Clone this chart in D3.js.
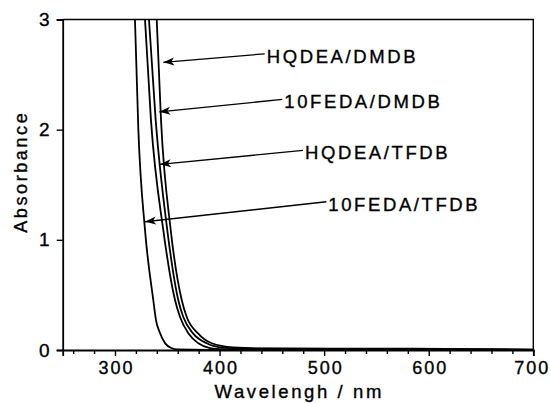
<!DOCTYPE html>
<html>
<head>
<meta charset="utf-8">
<script src="https://cdn.jsdelivr.net/npm/d3@7"></script>
<style>
  html, body { margin: 0; padding: 0; background: #fff; }
  svg { display: block; }
  text { font-family: "Liberation Sans", Arial, sans-serif; fill: #000; }
</style>
</head>
<body>
<svg id="chart" width="551" height="403"></svg>
<script>
// ---- data ----
const xTicks = [300, 400, 500, 600, 700];
const xMinorTicks = [260, 280, 320, 340, 360, 380, 420, 440, 460, 480, 520, 540, 560, 580, 620, 640, 660, 680];
const yTicks = [0, 1, 2, 3];
const xDomain = [250, 700];
const yDomain = [0, 3];

const seriesNames = ["10FEDA/TFDB", "10FEDA/DMDB", "HQDEA/TFDB", "HQDEA/DMDB"];

const wl_10FEDA_TFDB = [319.1, 322.3, 328.7, 336.6, 339.2, 343.0, 348.0, 354.0, 360.0, 390, 700];
const ab_10FEDA_TFDB = [3.0, 2.01, 1.09, 0.454, 0.272, 0.154, 0.06, 0.018, 0.005, 0.002, 0.001];

const wl_10FEDA_DMDB = [328.7, 334.4, 346.2, 357.4, 362.2, 370.1, 379.7, 390.9, 401, 450, 700];
const ab_10FEDA_DMDB = [3.0, 2.087, 1.089, 0.454, 0.30, 0.151, 0.061, 0.017, 0.007, 0.003, 0.001];

const wl_HQDEA_TFDB = [332.5, 338.9, 350.0, 360.5, 365.3, 374.6, 387.7, 403, 435, 585, 700];
const ab_HQDEA_TFDB = [3.0, 2.087, 1.089, 0.454, 0.30, 0.151, 0.061, 0.022, 0.012, 0.01, 0.003];

const wl_HQDEA_DMDB = [339.9, 344.0, 353.3, 363.8, 368.6, 379.4, 392.5, 413, 445, 585, 700];
const ab_HQDEA_DMDB = [3.0, 2.087, 1.089, 0.454, 0.30, 0.151, 0.061, 0.024, 0.014, 0.012, 0.003];

// annotation: label text position and arrow tip, in data units
const labelText = ["HQDEA/DMDB", "10FEDA/DMDB", "HQDEA/TFDB", "10FEDA/TFDB"];
const labelWl   = [445.1, 461.9, 481.7, 504.0];
const labelAb   = [2.607, 2.193, 1.730, 1.264];
const tipWl     = [346.2, 342.4, 343.0, 328.7];
const tipAb     = [2.611, 2.162, 1.685, 1.164];

const xTitle = "Wavelengh / nm";
const yTitle = "Absorbance";

// ---- chart ----
const svg = d3.select("#chart");
const x = d3.scaleLinear().domain(xDomain).range([62.7, 533.3]);
const y = d3.scaleLinear().domain(yDomain).range([350, 19.5]);

const series = [
  {name: seriesNames[0], wl: wl_10FEDA_TFDB, ab: ab_10FEDA_TFDB},
  {name: seriesNames[1], wl: wl_10FEDA_DMDB, ab: ab_10FEDA_DMDB},
  {name: seriesNames[2], wl: wl_HQDEA_TFDB, ab: ab_HQDEA_TFDB},
  {name: seriesNames[3], wl: wl_HQDEA_DMDB, ab: ab_HQDEA_DMDB}
];

const defs = svg.append("defs");
defs.append("clipPath").attr("id", "clip")
  .append("rect")
  .attr("x", x(xDomain[0])).attr("y", y(yDomain[1]))
  .attr("width", x(xDomain[1]) - x(xDomain[0]))
  .attr("height", y(yDomain[0]) - y(yDomain[1]));

defs.append("marker")
  .attr("id", "arrow")
  .attr("viewBox", "-12 -5 13 10")
  .attr("refX", 0).attr("refY", 0)
  .attr("markerWidth", 13).attr("markerHeight", 10)
  .attr("markerUnits", "userSpaceOnUse")
  .attr("orient", "auto")
  .append("path")
  .attr("d", "M0,0 L-11,-4 L-8,0 L-11,4 Z")
  .attr("fill", "#000");

const line = d3.line()
  .x(d => x(d[0])).y(d => y(d[1]))
  .curve(d3.curveMonotoneX);

svg.append("g").attr("clip-path", "url(#clip)")
  .selectAll("path")
  .data(series)
  .join("path")
  .attr("d", s => line(s.wl.map((w, i) => [w, s.ab[i]])))
  .attr("fill", "none")
  .attr("stroke", "#000")
  .attr("stroke-width", 1.8);

// frame (top & right)
svg.append("path")
  .attr("d", `M${x(xDomain[0])},${y(yDomain[1])} H${x(xDomain[1])} V${y(yDomain[0])}`)
  .attr("fill", "none").attr("stroke", "#000").attr("stroke-width", 1.4);

// x axis
const gx = svg.append("g").attr("transform", `translate(0,${y(0)})`)
  .call(d3.axisBottom(x).tickValues(xTicks).tickSize(6).tickPadding(5).tickFormat(d3.format("d")));
svg.append("g").attr("transform", `translate(0,${y(0)})`)
  .call(d3.axisBottom(x).tickValues(xMinorTicks).tickSize(4).tickFormat(""))
  .call(g => g.select(".domain").remove());

// y axis
const gy = svg.append("g").attr("transform", `translate(${x(xDomain[0])},0)`)
  .call(d3.axisLeft(y).tickValues(yTicks).tickSize(6).tickPadding(7).tickFormat(d3.format("d")));

svg.selectAll(".domain").attr("stroke-width", 1.8).attr("stroke", "#000");
svg.selectAll(".tick line").attr("stroke-width", 1.4).attr("stroke", "#000");
gx.selectAll("text").attr("font-size", 18).attr("letter-spacing", 2)
  .attr("dx", d => d === 700 ? -1.5 : 1).attr("dy", "0.72em").attr("fill", "#000")
  .attr("stroke", "#000").attr("stroke-width", 0.35)
  .style("font-family", "'Liberation Sans', Arial, sans-serif");
gy.selectAll("text").attr("font-size", 19).attr("fill", "#000")
  .attr("stroke", "#000").attr("stroke-width", 0.35)
  .style("font-family", "'Liberation Sans', Arial, sans-serif");

// titles
svg.append("text")
  .attr("x", (x(xDomain[0]) + x(xDomain[1])) / 2 + 1.3)
  .attr("y", 398)
  .attr("text-anchor", "middle")
  .attr("font-size", 18.5)
  .attr("letter-spacing", 2.6)
  .attr("stroke", "#000").attr("stroke-width", 0.35)
  .text(xTitle);

svg.append("text")
  .attr("transform", `translate(26.5,${(y(0) + y(3)) / 2 - 13}) rotate(-90)`)
  .attr("text-anchor", "middle")
  .attr("font-size", 18)
  .attr("letter-spacing", 2.6)
  .attr("stroke", "#000").attr("stroke-width", 0.35)
  .text(yTitle);

// annotations
const ann = svg.append("g");
labelText.forEach((t, i) => {
  const tx = x(labelWl[i]), ty = y(labelAb[i]);
  ann.append("line")
    .attr("x1", tx - 2).attr("y1", ty - 9)
    .attr("x2", x(tipWl[i])).attr("y2", y(tipAb[i]))
    .attr("stroke", "#000").attr("stroke-width", 1.3)
    .attr("marker-end", "url(#arrow)");
  ann.append("text")
    .attr("x", tx).attr("y", ty)
    .attr("font-size", 18.5)
    .attr("letter-spacing", 2.6)
    .attr("stroke", "#000").attr("stroke-width", 0.35)
    .text(t);
});
</script>
</body>
</html>
